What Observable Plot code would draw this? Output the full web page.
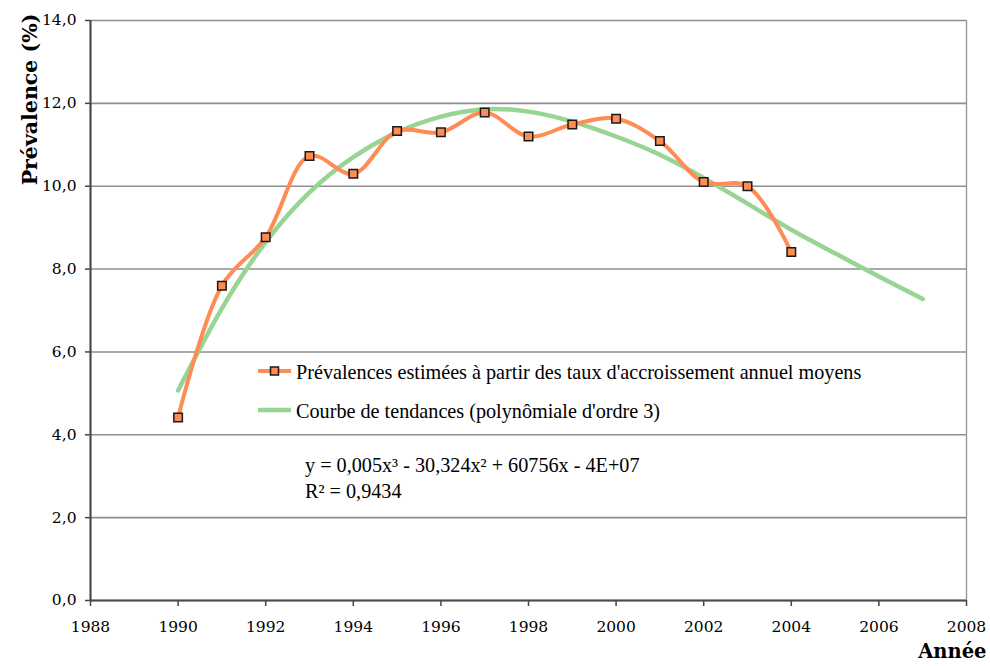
<!DOCTYPE html>
<html>
<head>
<meta charset="utf-8">
<script src="https://cdn.jsdelivr.net/npm/d3@7"></script>
<script src="https://cdn.jsdelivr.net/npm/@observablehq/plot@0.6"></script>
<style>
  html, body { margin: 0; padding: 0; background: #fff; }
  #wrap { position: relative; width: 990px; height: 666px; overflow: hidden; }
  #overlay { position: absolute; left: 0; top: 0; pointer-events: none; }
</style>
</head>
<body>
<div id="wrap"></div>
<script>
// ---- Data ----
const years = [1990, 1991, 1992, 1993, 1994, 1995, 1996, 1997, 1998, 1999, 2000, 2001, 2002, 2003, 2004];
const prevalence = [4.42, 7.60, 8.77, 10.73, 10.30, 11.33, 11.30, 11.78, 11.20, 11.49, 11.63, 11.09, 10.10, 10.00, 8.41];

const trendYears = [1990, 1991, 1992, 1993, 1994, 1995, 1996, 1997, 1998, 1999, 2000, 2001, 2002, 2003, 2004, 2005, 2006, 2007];
const trendValues = [5.07, 7.05, 8.65, 9.85, 10.70, 11.30, 11.68, 11.86, 11.80, 11.56, 11.20, 10.76, 10.20, 9.58, 8.95, 8.38, 7.82, 7.28];

const xTicks = [1988, 1990, 1992, 1994, 1996, 1998, 2000, 2002, 2004, 2006, 2008];
const yTicks = [0, 2, 4, 6, 8, 10, 12, 14];

const seriesLabels = [
  "Prévalences estimées à partir des taux d'accroissement annuel moyens",
  "Courbe de tendances (polynômiale d'ordre 3)"
];
const equationLines = ["y = 0,005x³ - 30,324x² + 60756x - 4E+07", "R² = 0,9434"];
const yTitle = "Prévalence (%)";
const xTitle = "Année";

// ---- Build tables ----
const observed = years.map((y, i) => ({ year: y, value: prevalence[i] }));
const trend = trendYears.map((y, i) => ({ year: y, value: trendValues[i] }));

const ORANGE = "#ff8c55";
const GREEN = "#98d494";
const fmtY = d => d.toFixed(1).replace(".", ",");

const chart = Plot.plot({
  width: 990,
  height: 666,
  marginLeft: 90,
  marginRight: 24,
  marginTop: 20,
  marginBottom: 66,
  style: { background: "#fff", color: "#000", fontFamily: "DejaVu Serif", fontSize: "15.5px" },
  x: { domain: [1988, 2008], ticks: xTicks },
  y: { domain: [0, 14], ticks: yTicks },
  marks: [
    Plot.gridY(yTicks, { stroke: "#8e8e8e", strokeOpacity: 1, strokeWidth: 1.6 }),
    Plot.ruleX([2008], { stroke: "#9a9a9a", strokeWidth: 1.4 }),
    Plot.line(trend, { x: "year", y: "value", curve: "natural", stroke: GREEN, strokeWidth: 4.5 }),
    Plot.line(observed, { x: "year", y: "value", curve: "catmull-rom", stroke: ORANGE, strokeWidth: 4 }),
    Plot.dot(observed, { x: "year", y: "value", symbol: "square", r: 4.8, fill: ORANGE, stroke: "#1a1a1a", strokeWidth: 1.5 }),
    Plot.axisY({ ticks: yTicks, tickFormat: fmtY, tickSize: 5, tickPadding: 9, label: null, stroke: "#444", strokeWidth: 1.5, fontSize: 15.5 }),
    Plot.axisX({ ticks: xTicks, tickFormat: d => String(d), tickSize: 6, tickPadding: 14, label: null, stroke: "#444", strokeWidth: 1.5, fontSize: 15.5 }),
    Plot.ruleY([0], { stroke: "#4a4a4a", strokeWidth: 2.2 }),
    Plot.ruleX([1988], { stroke: "#4a4a4a", strokeWidth: 2.2 }),
    Plot.text([yTitle], { frameAnchor: "top-left", dx: -68, dy: 79, rotate: -90, textAnchor: "middle",
      fontWeight: "bold", fontSize: 20.5, fontFamily: "DejaVu Serif", fill: "#000" }),
    Plot.text([xTitle], { frameAnchor: "bottom-right", dx: 20, dy: 57, textAnchor: "end",
      fontWeight: "bold", fontSize: 19.5, fontFamily: "DejaVu Serif", fill: "#000" })
  ]
});

const wrap = document.getElementById("wrap");
wrap.appendChild(chart);

// ---- Legend and equation overlay ----
const ns = "http://www.w3.org/2000/svg";
const ov = document.createElementNS(ns, "svg");
ov.setAttribute("id", "overlay");
ov.setAttribute("width", 990);
ov.setAttribute("height", 666);
wrap.appendChild(ov);

function add(tag, attrs, text) {
  const el = document.createElementNS(ns, tag);
  for (const k in attrs) el.setAttribute(k, attrs[k]);
  if (text != null) el.textContent = text;
  ov.appendChild(el);
  return el;
}
const legendFont = { "font-family": "Liberation Serif", "font-size": "20.2px", fill: "#000" };
// series 1
add("line", { x1: 258, x2: 291, y1: 371, y2: 371, stroke: ORANGE, "stroke-width": 4 });
add("rect", { x: 270.5, y: 367, width: 8, height: 8, fill: ORANGE, stroke: "#1a1a1a", "stroke-width": 1.5 });
add("text", { x: 296, y: 379, ...legendFont }, seriesLabels[0]);
// series 2
add("line", { x1: 258, x2: 291, y1: 410, y2: 410, stroke: GREEN, "stroke-width": 4.5 });
add("text", { x: 296, y: 418, ...legendFont }, seriesLabels[1]);
// equation
add("text", { x: 305, y: 472, ...legendFont }, equationLines[0]);
add("text", { x: 305, y: 498, ...legendFont }, equationLines[1]);
</script>
</body>
</html>
